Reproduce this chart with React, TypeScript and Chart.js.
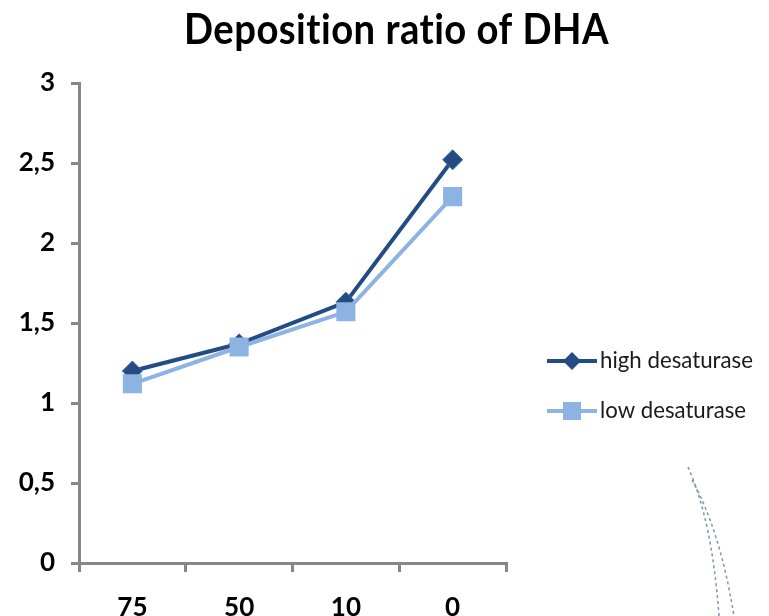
import React, { useEffect, useRef } from "react";
import { Chart, registerables } from "chart.js";

Chart.register(...registerables);

const categories = ["75", "50", "10", "0"];
const highDesaturase = [1.2, 1.37, 1.63, 2.52];
const lowDesaturase = [1.12, 1.35, 1.57, 2.29];
const seriesNames = ["high desaturase", "low desaturase"];
const titleText = "Deposition ratio of DHA";

const DARK = "#234C83";
const LIGHT = "#8DB3E2";
const AXIS = "#878787";
const FONT = "Lato, 'Liberation Sans', Arial, sans-serif";

const decorPlugin = {
  id: "decor",
  afterDraw(chart: any) {
    const { ctx, chartArea, width } = chart;
    // title, narrowed to match the condensed original face
    ctx.save();
    ctx.font = `bold 42px ${FONT}`;
    try {
      (ctx as any).letterSpacing = "0.5px";
    } catch (e) {}
    ctx.fillStyle = "#000";
    ctx.textBaseline = "alphabetic";
    ctx.textAlign = "left";
    const tw = ctx.measureText(titleText).width;
    const target = 425;
    const sx = Math.min(1, target / tw);
    const cx = width / 2 + 12;
    ctx.translate(cx - (tw * sx) / 2, 44);
    ctx.scale(sx, 1);
    ctx.fillText(titleText, 0, 0);
    ctx.restore();

    const mid = (chartArea.top + chartArea.bottom) / 2;
    const x0 = chartArea.right + 41;
    const x1 = x0 + 50;
    chart.data.datasets.forEach((ds: any, i: number) => {
      const y = mid + 38 + i * 50;
      ctx.save();
      ctx.strokeStyle = ds.borderColor;
      ctx.lineWidth = 4;
      ctx.beginPath();
      ctx.moveTo(x0, y);
      ctx.lineTo(x1, y);
      ctx.stroke();
      const mx = (x0 + x1) / 2;
      ctx.fillStyle = ds.pointBackgroundColor;
      ctx.beginPath();
      if (ds.pointStyle === "rectRot") {
        const r = 9;
        ctx.moveTo(mx - r, y);
        ctx.lineTo(mx, y - r);
        ctx.lineTo(mx + r, y);
        ctx.lineTo(mx, y + r);
        ctx.closePath();
      } else {
        const s = 9;
        ctx.rect(mx - s, y - s, 2 * s, 2 * s);
      }
      ctx.fill();
      ctx.fillStyle = "#1a1a1a";
      ctx.font = `23px ${FONT}`;
      ctx.textBaseline = "middle";
      ctx.textAlign = "left";
      const lw = ctx.measureText(ds.label).width;
      const lsx = i === 0 ? Math.min(1, 153 / lw) : Math.min(1, 146 / lw);
      ctx.translate(x1 + 3, y);
      ctx.scale(lsx, 1);
      ctx.fillText(ds.label, 0, 0);
      ctx.restore();
    });
    // decorative dashed curves in the bottom right corner
    ctx.save();
    ctx.strokeStyle = "#7d97ad";
    ctx.lineWidth = 1.5;
    ctx.setLineDash([3, 3]);
    ctx.beginPath();
    ctx.moveTo(688, 467);
    ctx.quadraticCurveTo(712, 520, 719, 616);
    ctx.stroke();
    ctx.beginPath();
    ctx.moveTo(692, 480);
    ctx.quadraticCurveTo(720, 530, 734, 616);
    ctx.stroke();
    ctx.restore();
  },
};

export default function App() {
  const ref = useRef<HTMLCanvasElement | null>(null);
  useEffect(() => {
    if (!ref.current) return;
    const chart = new Chart(ref.current, {
      type: "line",
      data: {
        labels: categories,
        datasets: [
          {
            label: seriesNames[0],
            data: highDesaturase,
            borderColor: DARK,
            backgroundColor: DARK,
            pointBackgroundColor: DARK,
            pointBorderColor: "#3d6aa6",
            pointBorderWidth: 1,
            pointStyle: "rectRot",
            pointRadius: 10,
            borderWidth: 4,
            order: 2,
          },
          {
            label: seriesNames[1],
            data: lowDesaturase,
            borderColor: LIGHT,
            backgroundColor: LIGHT,
            pointBackgroundColor: LIGHT,
            pointBorderColor: LIGHT,
            pointBorderWidth: 0,
            pointStyle: "rect",
            pointRadius: 13.5,
            borderWidth: 4,
            order: 1,
          },
        ],
      },
      options: {
        responsive: false,
        animation: false,
        layout: { padding: { left: 0, right: 263, top: 83, bottom: 0 } },
        plugins: {
          legend: { display: false },
          tooltip: { enabled: false },
          title: { display: false },
        },
        scales: {
          x: {
            offset: true,
            grid: {
              offset: true,
              drawOnChartArea: false,
              drawTicks: true,
              tickLength: 9,
              color: AXIS,
              lineWidth: 3,
            },
            border: { display: true, color: AXIS, width: 3 },
            ticks: {
              color: "#000",
              padding: 20,
              font: { family: FONT, size: 26, weight: "bold" },
            },
            afterFit: (s: any) => {
              s.height = 53;
            },
          },
          y: {
            min: 0,
            max: 3,
            grid: {
              drawOnChartArea: false,
              drawTicks: true,
              tickLength: 8,
              color: AXIS,
              lineWidth: 3,
            },
            border: { display: true, color: AXIS, width: 3 },
            ticks: {
              stepSize: 0.5,
              color: "#000",
              padding: 16,
              font: { family: FONT, size: 26, weight: "bold" },
              callback: (v: any) => String(v).replace(".", ","),
            },
            afterFit: (s: any) => {
              s.width = 79;
            },
          },
        },
      },
      plugins: [decorPlugin],
    });
    return () => chart.destroy();
  }, []);
  return (
    <div style={{ position: "absolute", left: 0, top: 0, width: 769, height: 616, background: "#fff" }}>
      <canvas ref={ref} width={769} height={616} style={{ display: "block" }} />
    </div>
  );
}
